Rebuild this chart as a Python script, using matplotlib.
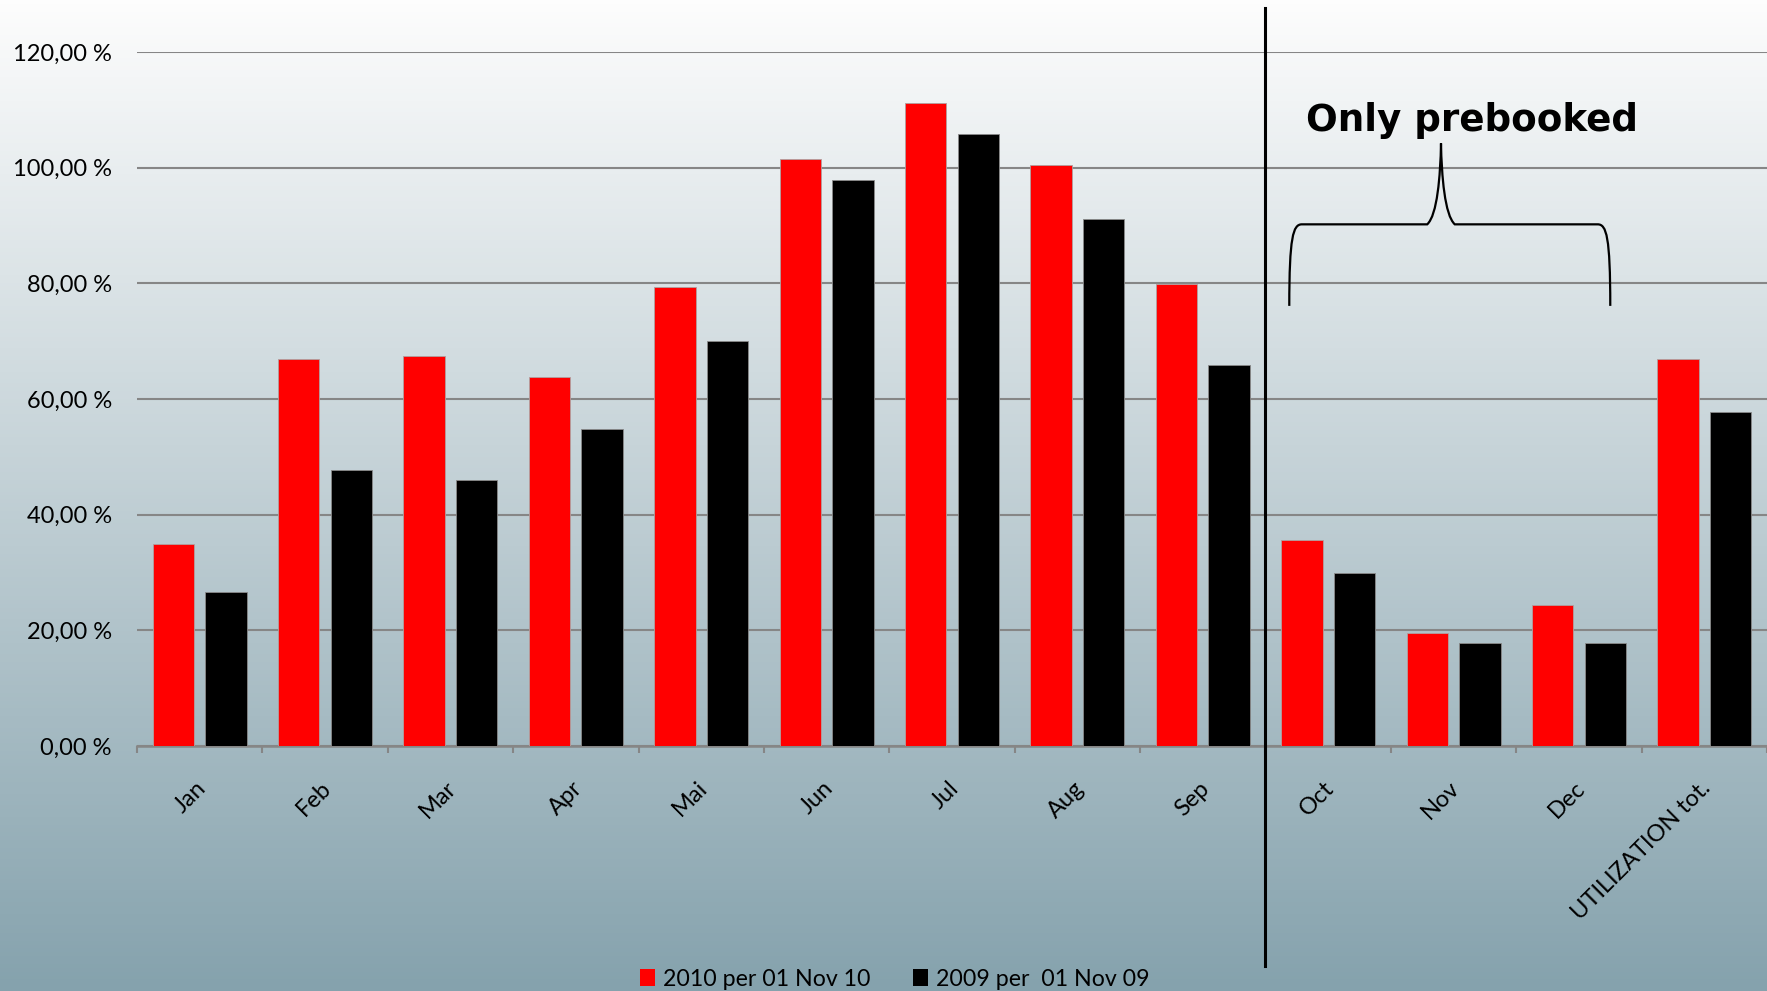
import numpy as np
import matplotlib
matplotlib.use('Agg')
import matplotlib.pyplot as plt
from matplotlib.patches import Patch
from matplotlib.path import Path
from matplotlib.patches import PathPatch
import matplotlib.transforms as mtransforms

plt.rcParams['font.family'] = ['Lato', 'DejaVu Sans']

categories = ['Jan', 'Feb', 'Mar', 'Apr', 'Mai', 'Jun', 'Jul', 'Aug', 'Sep',
              'Oct', 'Nov', 'Dec', 'UTILIZATION tot.']
vals_2010 = [35.0, 66.9, 67.5, 63.8, 79.4, 101.5, 111.2, 100.5, 79.8,
             35.7, 19.5, 24.4, 66.9]
vals_2009 = [26.7, 47.8, 46.0, 54.8, 70.0, 97.8, 105.8, 91.1, 65.8,
             30.0, 17.8, 17.8, 57.8]
label_2010 = '2010 per 01 Nov 10'
label_2009 = '2009 per  01 Nov 09'
yticks = [0, 20, 40, 60, 80, 100, 120]
ytick_labels = ['%d,00 %%' % v for v in yticks]

W, H = 1767, 991
fig = plt.figure(figsize=(W / 100, H / 100), dpi=100)

# background gradient, white at the top to steel blue at the bottom
bg = fig.add_axes([0, 0, 1, 1], zorder=-10)
top = np.array([253, 253, 253]) / 255.0
bot = np.array([133, 162, 173]) / 255.0
t = np.linspace(0, 1, 256)[:, None]
grad = top[None, :] * (1 - t) + bot[None, :] * t
bg.imshow(grad[:, None, :], aspect='auto', extent=[0, 1, 0, 1])
bg.axis('off')

ax = fig.add_axes([137 / W, 1 - 746 / H, 1 - 137 / W, (746 - 52) / H])
ax.set_facecolor('none')

x = np.arange(len(categories))
bw = 0.33
ax.bar(x - 0.21, vals_2010, bw, color='#ff0000', edgecolor='#b0a0a0',
       linewidth=0.6, zorder=3)
ax.bar(x + 0.21, vals_2009, bw, color='#000000', edgecolor='#8a8a8a',
       linewidth=0.6, zorder=3)

ax.set_xlim(-0.5, len(categories) - 0.5)
ax.set_ylim(0, 120)
ax.set_yticks(yticks)
ax.set_yticklabels(ytick_labels, fontsize=17)
ax.tick_params(axis='y', length=0, pad=18)
ax.yaxis.grid(True, color='#868686', linewidth=1.5, zorder=0)
ax.set_axisbelow(True)

ax.set_xticks(x)
ax.set_xticklabels(categories, fontsize=17, rotation=45, ha='right',
                   va='center', rotation_mode='anchor')
ax.set_xticks(np.arange(len(categories) + 1) - 0.5, minor=True)
ax.tick_params(axis='x', which='major', length=0, pad=28)
ax.tick_params(axis='x', which='minor', length=5, width=1.5, color='#868686',
               direction='out')
shift = mtransforms.ScaledTranslation(3 / 100, 0, fig.dpi_scale_trans)
for lab in ax.get_xticklabels():
    lab.set_transform(lab.get_transform() + shift)

for s in ['top', 'right', 'left']:
    ax.spines[s].set_visible(False)
ax.spines['bottom'].set_color('#868686')
ax.spines['bottom'].set_linewidth(1.8)

# divider between actual months and prebooked months
ax.axvline(8.5, ymin=-0.317, ymax=1.063, color='black', linewidth=2.2,
           clip_on=False, zorder=5)

# curly brace over Oct..Dec
bx0, bx1, bxm = 8.69, 11.25, 9.90
by0, by1, byt = 76.1, 90.2, 104.2
verts = [
    (bx0, by0), (bx0, 88.0), (bx0 + 0.03, by1), (bx0 + 0.10, by1),
    (bxm - 0.11, by1),
    (bxm - 0.03, 91.8), (bxm - 0.005, 98.5), (bxm, byt),
    (bxm + 0.005, 98.5), (bxm + 0.03, 91.8), (bxm + 0.11, by1),
    (bx1 - 0.10, by1),
    (bx1 - 0.03, by1), (bx1, 88.0), (bx1, by0),
]
codes = [Path.MOVETO, Path.CURVE4, Path.CURVE4, Path.CURVE4,
         Path.LINETO,
         Path.CURVE4, Path.CURVE4, Path.CURVE4,
         Path.CURVE4, Path.CURVE4, Path.CURVE4,
         Path.LINETO,
         Path.CURVE4, Path.CURVE4, Path.CURVE4]
ax.add_patch(PathPatch(Path(verts, codes), facecolor='none',
                       edgecolor='black', linewidth=1.6, zorder=6))
ax.text(10.15, 106.3, 'Only prebooked', ha='center', va='baseline',
        fontsize=26.8, fontweight='bold', family='DejaVu Sans', zorder=6)

handles = [Patch(facecolor='#ff0000', edgecolor='none'),
           Patch(facecolor='#000000', edgecolor='none')]
fig.legend(handles, [label_2010, label_2009], loc='center',
           bbox_to_anchor=(895 / W, 1 - 979 / H), ncol=2, frameon=False,
           fontsize=16.7, handlelength=0.63, handleheight=0.73,
           handletextpad=0.35, columnspacing=1.85)

fig.savefig('out.png', dpi=100)
